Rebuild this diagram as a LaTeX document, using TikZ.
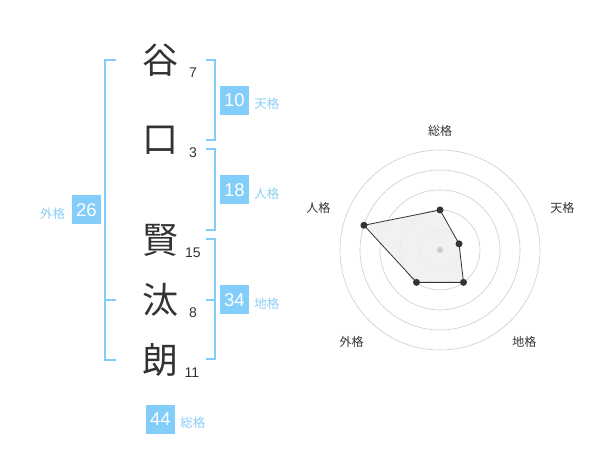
\documentclass[tikz,border=0pt]{standalone}
\usepackage{fontspec}
\usetikzlibrary{calc}
\setmainfont{Liberation Sans}
\newfontfamily\cjk{Noto Sans CJK JP}
\definecolor{kblue}{RGB}{130,205,250}
\definecolor{klabel}{RGB}{140,205,245}
\definecolor{kdark}{RGB}{51,51,51}
\definecolor{kgrid}{RGB}{204,204,204}
\definecolor{kfill}{RGB}{239,239,239}
\begin{document}
\begin{tikzpicture}[x=1pt,y=1pt,
  kanji/.style={font=\cjk\fontsize{36}{36}\selectfont, text=kdark, inner sep=0pt},
  strokes/.style={font=\fontsize{14}{14}\selectfont, text=kdark, inner sep=0pt},
  scorebox/.style={fill=kblue, text=white, minimum width=29pt, minimum height=29pt, inner sep=0pt, font=\fontsize{18.5}{18.5}\selectfont},
  scorelabel/.style={font=\cjk\fontsize{12.5}{12.5}\selectfont, text=klabel, inner sep=0pt},
  bracket/.style={draw=kblue, line width=2pt},
  radarlabel/.style={font=\cjk\fontsize{12}{12}\selectfont, text=kdark, inner sep=0pt},
  ring/.style={draw=kgrid, line width=0.6pt},
  dot/.style={circle, fill=kdark, inner sep=0pt, minimum size=7pt}]
\useasboundingbox (0,0) rectangle (600,470);
% characters
\node[kanji] (c1) at (160,410) {谷};
\node[kanji] (c2) at (160,330) {口};
\node[kanji] (c3) at (160,230) {賢};
\node[kanji] (c4) at (160,170) {汰};
\node[kanji] (c5) at (160,110) {朗};
\node[strokes] (n1) at (193,397.3) {7};
\node[strokes] (n2) at (193,317.3) {3};
\node[strokes] (n3) at (193,217.3) {15};
\node[strokes] (n4) at (193,157.3) {8};
\node[strokes] (n5) at (192,97.3) {11};
% brackets
\coordinate (r1a) at (206,410); \coordinate (r1b) at (214.5,410);
\coordinate (r1c) at (214.5,330); \coordinate (r1d) at (206,330);
\draw[bracket] (r1a) -- (r1b) -- (r1c) -- (r1d);
\coordinate (r2a) at (206,320.7); \coordinate (r2b) at (214.5,320.7);
\coordinate (r2c) at (214.5,240); \coordinate (r2d) at (206,240);
\draw[bracket] (r2a) -- (r2b) -- (r2c) -- (r2d);
\coordinate (r3a) at (206,230.7); \coordinate (r3b) at (214.5,230.7);
\coordinate (r3c) at (214.5,110.7); \coordinate (r3d) at (206,110.7);
\coordinate (r3m) at (214.5,170); \coordinate (r3n) at (206,170);
\draw[bracket] (r3a) -- (r3b) -- (r3c) -- (r3d);
\draw[bracket] (r3m) -- (r3n);
\coordinate (l1a) at (116,410); \coordinate (l1b) at (105,410);
\coordinate (l1c) at (105,110); \coordinate (l1d) at (116,110);
\coordinate (l1m) at (105,170); \coordinate (l1n) at (116,170);
\draw[bracket] (l1a) -- (l1b) -- (l1c) -- (l1d);
\draw[bracket] (l1m) -- (l1n);
% score boxes
\node[scorebox] (s1) at (234.5,369.5) {10};
\node[scorelabel, anchor=west] (t1) at ([xshift=5pt,yshift=-3.5pt]s1.east) {天格};
\node[scorebox] (s2) at (234.5,280) {18};
\node[scorelabel, anchor=west] (t2) at ([xshift=5pt,yshift=-3.5pt]s2.east) {人格};
\node[scorebox] (s3) at (234.5,170) {34};
\node[scorelabel, anchor=west] (t3) at ([xshift=5pt,yshift=-3.5pt]s3.east) {地格};
\node[scorebox] (s4) at (86.5,260) {26};
\node[scorelabel, anchor=east] (t4) at ([xshift=-6.5pt,yshift=-3.5pt]s4.west) {外格};
\node[scorebox] (s5) at (160.5,50.5) {44};
\node[scorelabel, anchor=west] (t5) at ([xshift=5pt,yshift=-3.5pt]s5.east) {総格};
% radar
\coordinate (rc) at (440,220);
\foreach \r in {20,40,60,80,100} \draw[ring] (rc) circle[radius=\r];
\coordinate (p1) at ($(rc)+(90:40)$);
\coordinate (p2) at ($(rc)+(18:20)$);
\coordinate (p3) at ($(rc)+(-54:40)$);
\coordinate (p4) at ($(rc)+(-126:40)$);
\coordinate (p5) at ($(rc)+(162:80)$);
\fill[kfill, opacity=0.85] (p1) -- (p2) -- (p3) -- (p4) -- (p5) -- cycle;
\draw[kdark, line width=0.8pt, line join=round] (p1) -- (p2) -- (p3) -- (p4) -- (p5) -- cycle;
\node[circle, fill=kgrid, inner sep=0pt, minimum size=6pt] (cdot) at (rc) {};
\foreach \p in {p1,p2,p3,p4,p5} \node[dot] at (\p) {};
\node[radarlabel] (a1) at (440,339.3) {総格};
\node[radarlabel] (a2) at (562.3,261.7) {天格};
\node[radarlabel] (a3) at (524.3,128.3) {地格};
\node[radarlabel] (a4) at (351.7,128.3) {外格};
\node[radarlabel] (a5) at (318.3,261.7) {人格};
\end{tikzpicture}
\end{document}
